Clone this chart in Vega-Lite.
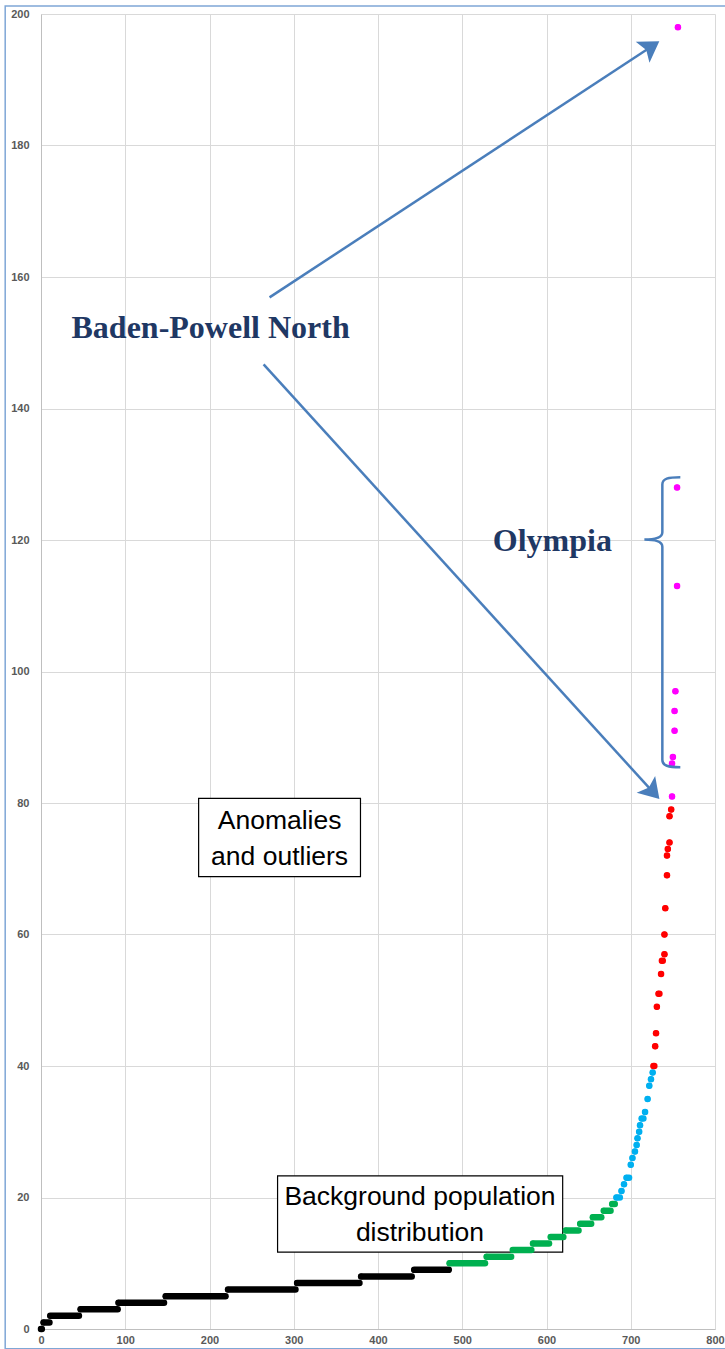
{
  "$schema": "https://vega.github.io/schema/vega-lite/v6.json",
  "width": 674,
  "height": 1315,
  "autosize": "none",
  "padding": {"left": 41, "top": 14, "right": 10, "bottom": 20},
  "background": "white",
  "config": {
    "view": {"stroke": null},
    "axis": {
      "grid": true, "gridColor": "#d9d9d9", "gridWidth": 1,
      "domainColor": "#bfbfbf", "domainWidth": 1, "ticks": false,
      "labelFont": "Liberation Sans", "labelFontSize": 11, "labelFontWeight": "bold",
      "labelColor": "#595959", "labelFlush": false, "labelOverlap": false
    }
  },
  "datasets": {
    "frame": [{"x": -42.5, "x2": 822, "y": -3, "y2": 201.2}],
    "boxes": [
      {"x": 187.1, "x2": 379.2, "y": 68.8, "y2": 80.7},
      {"x": 280.8, "x2": 619.2, "y": 11.7, "y2": 23.3}
    ],
    "boxtext": [
      {"x": 283.2, "y": 77.3, "label": "Anomalies"},
      {"x": 283.2, "y": 71.8, "label": "and outliers"},
      {"x": 449.8, "y": 20.1, "label": "Background population"},
      {"x": 449.8, "y": 14.6, "label": "distribution"}
    ],
    "callouts": [
      {"x": 201.3, "y": 152.2, "label": "Baden-Powell North"},
      {"x": 606.9, "y": 119.9, "label": "Olympia"}
    ],
    "arrows": [
      {"x": 271.3, "y": 156.9, "x2": 721.5, "y2": 194.8},
      {"x": 264.2, "y": 146.7, "x2": 724.0, "y2": 82.0}
    ],
    "dist": [
      {"y": 0, "x": 0, "x2": 1, "group": "0-9"},
      {"y": 1, "x": 3, "x2": 10, "group": "0-9"},
      {"y": 2, "x": 11, "x2": 45, "group": "0-9"},
      {"y": 3, "x": 47, "x2": 91, "group": "0-9"},
      {"y": 4, "x": 92, "x2": 146, "group": "0-9"},
      {"y": 5, "x": 148, "x2": 219, "group": "0-9"},
      {"y": 6, "x": 222, "x2": 302, "group": "0-9"},
      {"y": 7, "x": 304, "x2": 378, "group": "0-9"},
      {"y": 8, "x": 380, "x2": 440, "group": "0-9"},
      {"y": 9, "x": 443, "x2": 484, "group": "0-9"},
      {"y": 10, "x": 485, "x2": 527, "group": "10-19"},
      {"y": 11, "x": 529, "x2": 558, "group": "10-19"},
      {"y": 12, "x": 560, "x2": 582, "group": "10-19"},
      {"y": 13, "x": 584, "x2": 603, "group": "10-19"},
      {"y": 14, "x": 605, "x2": 620, "group": "10-19"},
      {"y": 15, "x": 623, "x2": 638, "group": "10-19"},
      {"y": 16, "x": 640, "x2": 653, "group": "10-19"},
      {"y": 17, "x": 655, "x2": 665, "group": "10-19"},
      {"y": 18, "x": 668, "x2": 676, "group": "10-19"},
      {"y": 19, "x": 678, "x2": 681, "group": "10-19"},
      {"y": 20, "x": 683, "x2": 687, "group": "20-39"},
      {"y": 21, "x": 689, "x2": 689, "group": "20-39"},
      {"y": 22, "x": 692, "x2": 692, "group": "20-39"},
      {"y": 23, "x": 695, "x2": 698, "group": "20-39"},
      {"y": 25, "x": 700, "x2": 700, "group": "20-39"},
      {"y": 26, "x": 702, "x2": 702, "group": "20-39"},
      {"y": 27, "x": 705, "x2": 705, "group": "20-39"},
      {"y": 28, "x": 707, "x2": 707, "group": "20-39"},
      {"y": 29, "x": 708, "x2": 708, "group": "20-39"},
      {"y": 30, "x": 710, "x2": 710, "group": "20-39"},
      {"y": 31, "x": 711, "x2": 711, "group": "20-39"},
      {"y": 32, "x": 713, "x2": 715, "group": "20-39"},
      {"y": 33, "x": 717, "x2": 717, "group": "20-39"},
      {"y": 35, "x": 720, "x2": 720, "group": "20-39"},
      {"y": 37, "x": 722, "x2": 722, "group": "20-39"},
      {"y": 38, "x": 724, "x2": 724, "group": "20-39"},
      {"y": 39, "x": 726, "x2": 726, "group": "20-39"},
      {"y": 40, "x": 727, "x2": 728, "group": "40-80"},
      {"y": 43, "x": 729, "x2": 729, "group": "40-80"},
      {"y": 45, "x": 730, "x2": 730, "group": "40-80"},
      {"y": 49, "x": 731, "x2": 731, "group": "40-80"},
      {"y": 51, "x": 733, "x2": 734, "group": "40-80"},
      {"y": 54, "x": 736, "x2": 736, "group": "40-80"},
      {"y": 56, "x": 737, "x2": 738, "group": "40-80"},
      {"y": 57, "x": 740, "x2": 740, "group": "40-80"},
      {"y": 60, "x": 740, "x2": 740, "group": "40-80"},
      {"y": 64, "x": 741, "x2": 741, "group": "40-80"},
      {"y": 69, "x": 743, "x2": 743, "group": "40-80"},
      {"y": 72, "x": 743, "x2": 743, "group": "40-80"},
      {"y": 73, "x": 744, "x2": 744, "group": "40-80"},
      {"y": 74, "x": 746, "x2": 746, "group": "40-80"},
      {"y": 78, "x": 746, "x2": 746, "group": "40-80"},
      {"y": 79, "x": 748, "x2": 748, "group": "40-80"},
      {"y": 81, "x": 749, "x2": 749, "group": ">80"},
      {"y": 86, "x": 749, "x2": 749, "group": ">80"},
      {"y": 87, "x": 750, "x2": 750, "group": ">80"},
      {"y": 91, "x": 752, "x2": 752, "group": ">80"},
      {"y": 94, "x": 752, "x2": 752, "group": ">80"},
      {"y": 97, "x": 753, "x2": 753, "group": ">80"},
      {"y": 113, "x": 755, "x2": 755, "group": ">80"},
      {"y": 128, "x": 755, "x2": 755, "group": ">80"},
      {"y": 198, "x": 756, "x2": 756, "group": ">80"}
    ]
  },
  "encoding": {
    "x": {"field": "x", "type": "quantitative", "title": null,
          "scale": {"domain": [0, 800], "nice": false, "zero": false},
          "axis": {"values": [0, 100, 200, 300, 400, 500, 600, 700, 800], "labelPadding": 5}},
    "y": {"field": "y", "type": "quantitative", "title": null,
          "scale": {"domain": [0, 200], "nice": false, "zero": false},
          "axis": {"values": [0, 20, 40, 60, 80, 100, 120, 140, 160, 180, 200], "labelPadding": 12}}
  },
  "layer": [
    {
      "data": {"name": "frame"},
      "mark": {"type": "rect", "fill": null, "fillOpacity": 0, "stroke": "#7fa7d6", "strokeWidth": 1.5},
      "encoding": {"x2": {"field": "x2"}, "y2": {"field": "y2"}}
    },
    {
      "data": {"name": "boxes"},
      "mark": {"type": "rect", "fill": "white", "stroke": "black", "strokeWidth": 1.2},
      "encoding": {"x2": {"field": "x2"}, "y2": {"field": "y2"}}
    },
    {
      "data": {"name": "boxtext"},
      "mark": {"type": "text", "font": "Liberation Sans", "fontSize": 26.5,
               "align": "center", "baseline": "middle", "color": "black"},
      "encoding": {"text": {"field": "label"}}
    },
    {
      "data": {"name": "dist"},
      "mark": {"type": "rule", "strokeWidth": 6.5, "strokeCap": "round"},
      "encoding": {
        "x2": {"field": "x2"},
        "color": {"field": "group", "type": "nominal", "legend": null,
                  "scale": {"domain": ["0-9", "10-19", "20-39", "40-80", ">80"],
                            "range": ["#000000", "#00b050", "#00b0f0", "#ff0000", "#ff00ff"]}}
      }
    },
    {
      "data": {"name": "dist"},
      "mark": {"type": "point", "shape": "circle", "filled": true, "opacity": 1, "size": 34},
      "encoding": {
        "color": {"field": "group", "type": "nominal", "legend": null,
                  "scale": {"domain": ["0-9", "10-19", "20-39", "40-80", ">80"],
                            "range": ["#000000", "#00b050", "#00b0f0", "#ff0000", "#ff00ff"]}}
      }
    },
    {
      "data": {"name": "arrows"},
      "mark": {"type": "rule", "stroke": "#4a7ebb", "strokeWidth": 2.5},
      "encoding": {"x2": {"field": "x2"}, "y2": {"field": "y2"}}
    },
    {
      "data": {"values": [{"x": 721.5, "y": 194.8}]},
      "mark": {"type": "point", "shape": "M0,-1L1,0.6L0,0.25L-1,0.6Z", "filled": true, "opacity": 1,
               "color": "#4a7ebb", "size": 625, "angle": 56.7}
    },
    {
      "data": {"values": [{"x": 724.0, "y": 82.0}]},
      "mark": {"type": "point", "shape": "M0,-1L1,0.6L0,0.25L-1,0.6Z", "filled": true, "opacity": 1,
               "color": "#4a7ebb", "size": 625, "angle": 137.6}
    },
    {
      "data": {"values": [{"x": 737.5, "y": 107.5}]},
      "mark": {"type": "point", "shape": "M0.124,-1C0.04,-1 0,-0.99 0,-0.95L0,-0.62C0,-0.59 -0.03,-0.57 -0.124,-0.57C-0.03,-0.57 0,-0.55 0,-0.52L0,0.95C0,0.99 0.04,1 0.124,1",
               "filled": false, "fill": null, "stroke": "#4a7ebb", "strokeWidth": 2.5, "opacity": 1, "size": 84100}
    },
    {
      "data": {"name": "callouts"},
      "mark": {"type": "text", "font": "Liberation Serif", "fontWeight": "bold", "fontSize": 32,
               "align": "center", "baseline": "middle", "color": "#1f3864"},
      "encoding": {"text": {"field": "label"}}
    }
  ]
}
